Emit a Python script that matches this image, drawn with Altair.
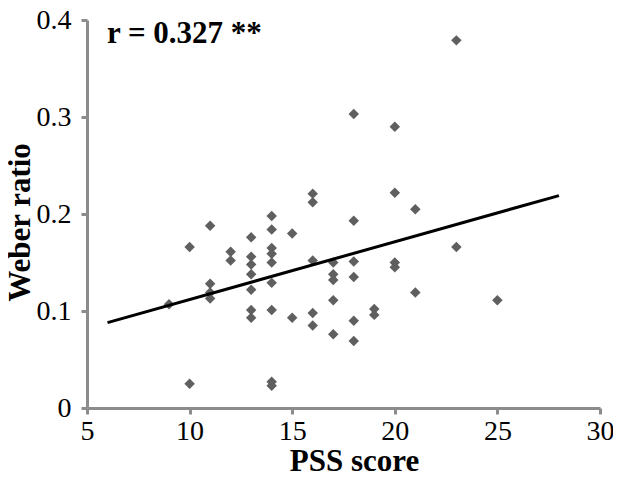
import altair as alt
import pandas as pd

# PSS score (x) and Weber ratio (y)
pss = [9,
       10, 10,
       11, 11, 11, 11,
       12, 12,
       13, 13, 13, 13, 13, 13, 13,
       14, 14, 14, 14, 14, 14, 14, 14, 14,
       15, 15,
       16, 16, 16, 16, 16,
       17, 17, 17, 17, 17,
       18, 18, 18, 18, 18, 18,
       19, 19,
       20, 20, 20, 20,
       21, 21,
       23, 23,
       25]
weber = [0.107,
         0.166, 0.025,
         0.188, 0.128, 0.119, 0.113,
         0.161, 0.152,
         0.176, 0.156, 0.148, 0.138, 0.122, 0.101, 0.093,
         0.198, 0.184, 0.165, 0.159, 0.150, 0.129, 0.101, 0.027, 0.023,
         0.180, 0.093,
         0.221, 0.212, 0.152, 0.098, 0.085,
         0.150, 0.138, 0.132, 0.111, 0.076,
         0.303, 0.193, 0.151, 0.135, 0.090, 0.069,
         0.102, 0.096,
         0.290, 0.222, 0.150, 0.145,
         0.205, 0.119,
         0.379, 0.166,
         0.111]

# trend line end points as drawn
line_x = [6, 28]
line_y = [0.088, 0.219]

x_ticks = [5, 10, 15, 20, 25, 30]
y_ticks = [0, 0.1, 0.2, 0.3, 0.4]
annotation = "r = 0.327 **"

pts = pd.DataFrame({"PSS score": pss, "Weber ratio": weber})
fit = pd.DataFrame({"PSS score": line_x, "Weber ratio": line_y})

FONT = "Liberation Serif"
AXIS_COLOR = "#8c8c8c"

xs = alt.Scale(domain=[5, 30], nice=False, zero=False)
ys = alt.Scale(domain=[0, 0.4], nice=False)

x_axis = alt.Axis(values=x_ticks, title="PSS score",
                  labelPadding=3,
                  titleX=267, titleY=62, titleAlign="center")
y_axis = alt.Axis(values=y_ticks, title="Weber ratio",
                  labelPadding=10,
                  labelExpr="datum.value == 0 ? '0' : format(datum.value, '.1f')",
                  titleX=-58, titleY=202, titleAlign="center", titleAngle=270)

points = alt.Chart(pts).mark_point(shape="diamond", filled=True, size=110,
                                   color="#5f5f5f", opacity=1).encode(
    x=alt.X("PSS score:Q", scale=xs, axis=x_axis),
    y=alt.Y("Weber ratio:Q", scale=ys, axis=y_axis),
)

line = alt.Chart(fit).mark_line(color="black", strokeWidth=3).encode(
    x=alt.X("PSS score:Q", scale=xs, axis=x_axis),
    y=alt.Y("Weber ratio:Q", scale=ys, axis=y_axis),
)

label = alt.Chart(pd.DataFrame({"t": [annotation]})).mark_text(
    font=FONT, fontSize=31, fontWeight="bold", color="black",
    align="left", baseline="alphabetic").encode(
    text="t:N", x=alt.value(20), y=alt.value(23))

chart = alt.layer(points, line, label).properties(
    width=513, height=388,
    autosize=alt.AutoSizeParams(type="none"),
    padding={"left": 79, "top": 12, "right": 13, "bottom": 65},
).configure(
    background="white", font=FONT
).configure_view(
    stroke=None
).configure_axis(
    grid=False, domainColor=AXIS_COLOR, domainWidth=3,
    tickColor=AXIS_COLOR, tickWidth=3, tickSize=6,
    labelFont=FONT, labelFontSize=28, labelColor="black", labelFlush=False,
    titleFont=FONT, titleFontSize=31, titleFontWeight="bold",
    titleColor="black", titleBaseline="alphabetic",
)

chart.save("out.html", embed_options={"renderer": "svg", "actions": False})
